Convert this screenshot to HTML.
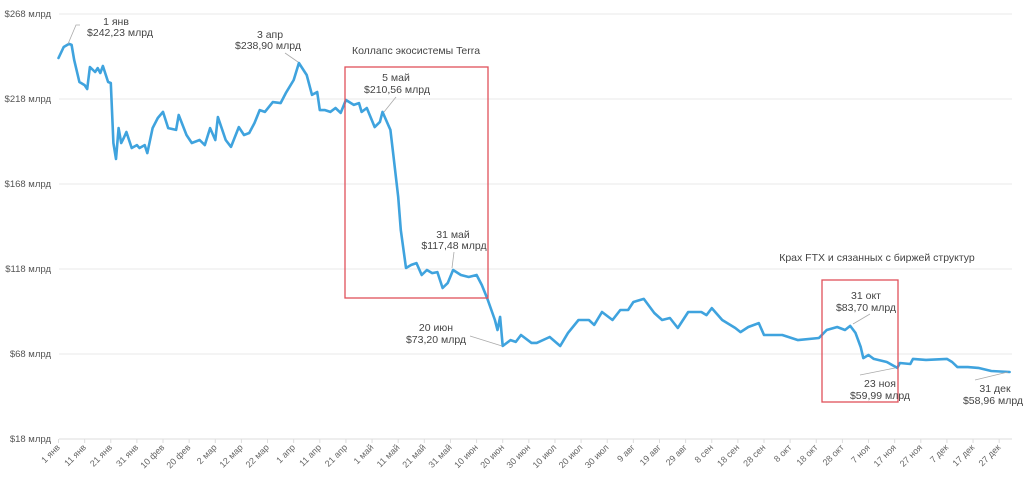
<!DOCTYPE html>
<html><head><meta charset="utf-8">
<style>
html,body{margin:0;padding:0;background:#fff;}
svg{display:block;font-family:"Liberation Sans",Arial,sans-serif;}
.yl{font-size:9.5px;fill:#555;}
.xl{font-size:9px;fill:#666;}
.an{font-size:10.5px;fill:#444;}
.ld{stroke:#aaa;stroke-width:0.8;fill:none;}
</style></head>
<body>
<svg id="chart" width="1024" height="480" viewBox="0 0 1024 480">
<g id="grid"></g>
<g id="yaxis"></g>
<g id="xaxis"></g>
<path id="line" fill="none" stroke="#3fa3de" stroke-width="2.6" stroke-linejoin="round" stroke-linecap="round"></path>
<rect x="345" y="67" width="143" height="231" fill="none" stroke="#e0505a" stroke-width="1.3"/>
<rect x="822" y="280" width="76" height="122" fill="none" stroke="#e0505a" stroke-width="1.3"/>
<text class="an" x="416" y="54" text-anchor="middle">Коллапс экосистемы Terra</text>
<text class="an" x="877" y="261" text-anchor="middle">Крах FTX и сязанных с биржей структур</text>
<g>
<text class="an" x="116" y="25" text-anchor="middle">1 янв</text>
<text class="an" x="120" y="36" text-anchor="middle">$242,23  млрд</text>
<polyline class="ld" points="80,25 76,25 68,44"/></g>
<g>
<text class="an" x="270" y="38" text-anchor="middle">3 апр</text>
<text class="an" x="268" y="49" text-anchor="middle">$238,90 млрд</text>
<polyline class="ld" points="285,53 298,62"/></g>
<g>
<text class="an" x="396" y="81" text-anchor="middle">5 май</text>
<text class="an" x="397" y="93" text-anchor="middle">$210,56 млрд</text>
<polyline class="ld" points="396,97 384,112"/></g>
<g>
<text class="an" x="453" y="238" text-anchor="middle">31 май</text>
<text class="an" x="454" y="249" text-anchor="middle">$117,48 млрд</text>
<polyline class="ld" points="454,252 452,268"/></g>
<g>
<text class="an" x="436" y="331" text-anchor="middle">20 июн</text>
<text class="an" x="436" y="343" text-anchor="middle">$73,20 млрд</text>
<polyline class="ld" points="470,336 502,346"/></g>
<g>
<text class="an" x="866" y="299" text-anchor="middle">31 окт</text>
<text class="an" x="866" y="311" text-anchor="middle">$83,70 млрд</text>
<polyline class="ld" points="870,314 853,324"/></g>
<g>
<text class="an" x="880" y="387" text-anchor="middle">23 ноя</text>
<text class="an" x="880" y="399" text-anchor="middle">$59,99  млрд</text>
<polyline class="ld" points="860,375 895,368"/></g>
<g>
<text class="an" x="995" y="392" text-anchor="middle">31 дек</text>
<text class="an" x="993" y="404" text-anchor="middle">$58,96 млрд</text>
<polyline class="ld" points="975,380 1008,372"/></g>
</svg>
<script>
const yTicks = [18, 68, 118, 168, 218, 268];
const xTickDays = [0,10,20,30,40,50,60,70,80,90,100,110,120,130,140,150,160,170,180,190,200,210,220,230,240,250,260,270,280,290,300,310,320,330,340,350,360];
const xTickLabels = ["1 янв","11 янв","21 янв","31 янв","10 фев","20 фев","2 мар","12 мар","22 мар","1 апр","11 апр","21 апр","1 май","11 май","21 май","31 май","10 июн","20 июн","30 июн","10 июл","20 июл","30 июл","9 авг","19 авг","29 авг","8 сен","18 сен","28 сен","8 окт","18 окт","28 окт","7 ноя","17 ноя","27 ноя","7 дек","17 дек","27 дек"];
const days = [0,2,4,5,6,8,10,11,12,14,15,16,17,19,20,21,22,23,24,25,26,28,30,31,33,34,36,38,40,42,45,46,49,51,54,56,58,60,61,64,66,69,71,73,75,77,79,82,85,87,90,92,95,97,99,100,102,104,106,108,110,113,115,116,118,121,123,124,127,128,130,131,133,135,137,139,141,143,145,147,149,151,154,157,160,162,164,167,168,169,170,173,175,177,181,183,188,192,195,199,203,205,208,212,215,218,220,224,228,231,234,237,241,246,248,250,254,259,261,264,268,270,277,283,291,294,298,301,303,305,307,308,310,312,317,321,322,326,327,332,340,342,344,348,352,357,364];
const values = [242.1,248.6,250.4,249.8,240.9,228.0,226.2,223.9,236.8,233.9,236.2,233.3,237.4,228.0,227.4,192.1,182.7,200.9,192.1,195.1,198.6,189.2,190.9,189.2,190.9,186.2,200.9,206.8,210.4,200.9,199.8,208.6,196.8,192.1,193.9,190.9,200.9,193.9,207.4,193.9,189.8,201.5,196.8,198.0,203.9,211.5,210.4,216.2,215.6,221.5,229.2,239.2,232.1,220.4,222.1,211.5,211.5,210.4,212.7,209.8,217.4,214.5,215.6,210.4,212.7,201.5,204.5,210.4,199.8,186.8,160.4,140.9,118.6,120.4,121.5,114.5,117.4,115.6,116.2,106.8,109.8,117.4,114.5,113.3,114.5,108.6,101.1,88.0,82.1,89.8,72.7,76.2,75.1,79.2,74.5,74.5,78.0,72.7,80.4,88.0,88.0,85.1,92.7,88.0,93.9,93.9,98.6,100.4,92.1,88.0,89.2,83.3,92.7,92.7,90.9,95.0,88.0,83.3,80.9,83.9,86.2,79.2,79.2,76.2,77.4,82.1,83.9,82.1,84.5,80.4,72.1,65.6,67.4,65.1,63.3,59.8,62.7,62.1,65.1,64.5,65.1,63.3,60.3,60.3,59.8,58.0,57.4];

const NS = "http://www.w3.org/2000/svg";
const X0 = 58.5, PXD = 2.613, XR = 1012;
function xs(d){ return X0 + d * PXD; }
function ys(v){ return 439 - (v - 18) * 1.7; }

const grid = document.getElementById('grid');
const yaxis = document.getElementById('yaxis');
yTicks.forEach(t => {
  const l = document.createElementNS(NS, 'line');
  
  
  l.setAttribute('x1', 59); l.setAttribute('x2', XR);
  l.setAttribute('y1', ys(t)); l.setAttribute('y2', ys(t));
  l.setAttribute('stroke', t === 18 ? '#ddd' : '#e8e8e8');
  l.setAttribute('stroke-width', '1');
  grid.appendChild(l);
  const tx = document.createElementNS(NS, 'text');
  
  
  tx.setAttribute('class', 'yl');
  tx.setAttribute('x', 51); tx.setAttribute('y', ys(t) + 3);
  tx.setAttribute('text-anchor', 'end');
  tx.textContent = '$' + t + ' млрд';
  yaxis.appendChild(tx);
});

const xaxis = document.getElementById('xaxis');
xTickDays.forEach((d, i) => {
  const x = xs(d);
  const tk = document.createElementNS(NS, 'line');
  
  
  tk.setAttribute('x1', x); tk.setAttribute('x2', x);
  tk.setAttribute('y1', 439); tk.setAttribute('y2', 443);
  tk.setAttribute('stroke', '#ddd');
  xaxis.appendChild(tk);
  const tx = document.createElementNS(NS, 'text');
  
  
  tx.setAttribute('class', 'xl');
  tx.setAttribute('text-anchor', 'end');
  tx.setAttribute('transform', 'translate(' + (x + 2) + ',448) rotate(-45)');
  tx.textContent = xTickLabels[i];
  xaxis.appendChild(tx);
});

let dPath = '';
days.forEach((d, i) => {
  dPath += (i ? 'L' : 'M') + xs(d).toFixed(1) + ',' + ys(values[i]).toFixed(1);
});
document.getElementById('line').setAttribute('d', dPath);
</script>
</body></html>
